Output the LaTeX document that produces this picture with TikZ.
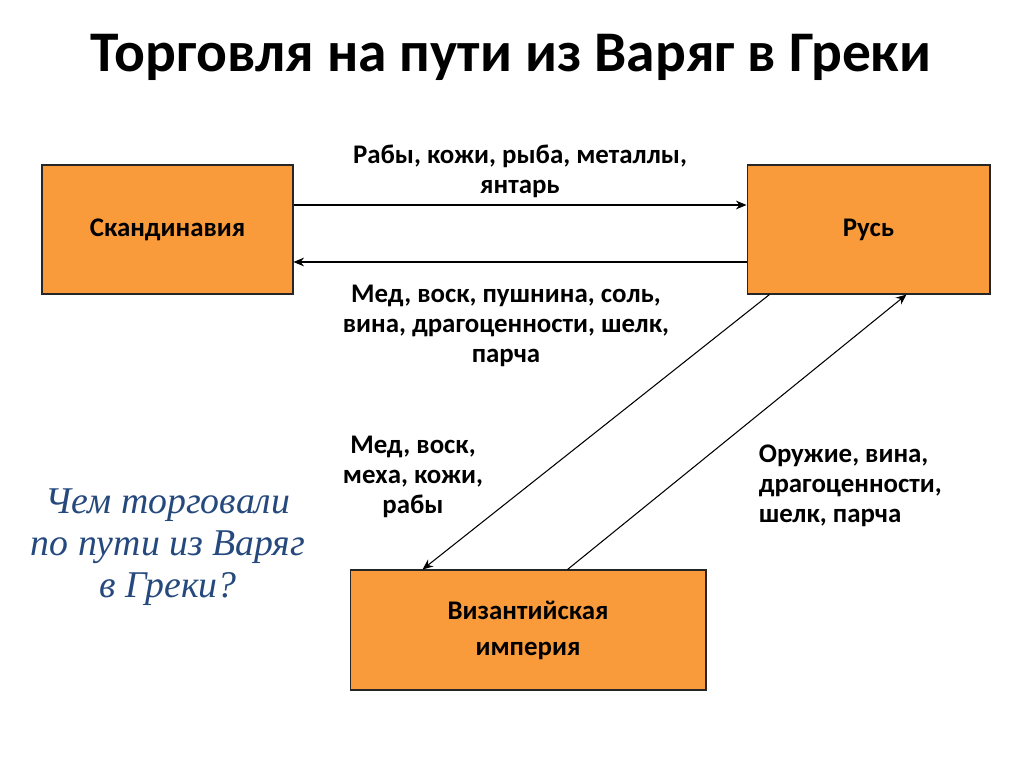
\documentclass[tikz,border=0pt]{standalone}
\usepackage{fontspec}
\setmainfont{Carlito}
\newfontfamily\askfont{Liberation Serif}
\usetikzlibrary{arrows.meta,positioning,calc}
\definecolor{boxorange}{RGB}{249,155,58}
\definecolor{askblue}{RGB}{38,73,125}
\tikzset{
    block/.style = {draw=black!85, fill=boxorange, rectangle, line width=0.6pt, minimum height=2.58cm, align=center, font=\bfseries\fontsize{15.3}{20.5}\selectfont},
    goods/.style = {align=center, font=\bfseries\fontsize{15.3}{17}\selectfont, inner sep=2pt},
    flow/.style = {-{Stealth[length=6pt,width=5pt]}, line width=0.6pt},
}
\begin{document}
\begin{tikzpicture}[x=0.02cm, y=-0.02cm]
    \useasboundingbox (0,0) rectangle (1024,767);
    \node[font=\bfseries\fontsize{32.7}{38}\selectfont] (title) at (511,57) {Торговля на пути из Варяг в Греки};

    \node[block, minimum width=5.02cm] (scand) at (167.5,229.5) {Скандинавия};
    \node[block, minimum width=4.86cm] (rus) at (868.5,229.5) {Русь};
    \node[block, minimum width=7.12cm, minimum height=2.4cm] (byz) at (528,630) {Византийская\\империя};

    \draw[flow] ($(scand.east)+(0,-24.5)$) -- node[goods, above, yshift=2pt] (toRus) {Рабы, кожи, рыба, металлы,\\янтарь} ($(rus.west)+(0,-24.5)$);
    \draw[flow] ($(rus.west)+(0,32.5)$) -- node[goods, below, xshift=-0.28cm, yshift=-11pt] (toScand) {Мед, воск, пушнина, соль,\\вина, драгоценности, шелк,\\парча} ($(scand.east)+(0,32.5)$);
    \draw[flow] ($(rus.south west)+(23,0)$) -- ($(byz.north west)+(73,0)$);
    \draw[flow] ($(byz.north west)+(218,0)$) -- ($(rus.south west)+(160,0)$);

    \node[goods] (toByz) at (413,477) {Мед, воск,\\меха, кожи,\\рабы};
    \node[goods, align=left, anchor=west] (fromByz) at (755,486) {Оружие, вина,\\драгоценности,\\шелк, парча};

    \node[align=center, text=askblue, font=\askfont\itshape\fontsize{21.5}{24}\selectfont] (ask) at (168,547) {Чем торговали\\по пути из Варяг\\в Греки?};
\end{tikzpicture}
\end{document}
